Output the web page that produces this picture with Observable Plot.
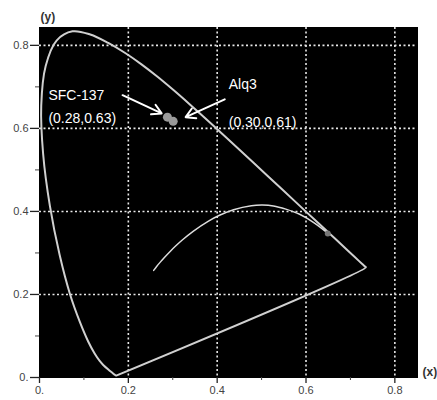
<!DOCTYPE html>
<html>
<head>
<meta charset="utf-8">
<script src="https://cdn.jsdelivr.net/npm/d3@7"></script>
<script src="https://cdn.jsdelivr.net/npm/@observablehq/plot@0.6"></script>
<style>
  body { margin: 0; background: #fff; }
  #chart svg { display: block; }
</style>
</head>
<body>
<div id="chart"></div>
<script>
// CIE 1931 spectral locus (x, y) as traced in the picture, closed by the purple line
const locusX = [0.1741,0.1733,0.1714,0.1689,0.1644,0.1566,0.1440,0.1355,0.1241,0.1096,0.0913,0.0687,0.0454,0.0235,0.0082,0.0039,0.0139,0.0389,0.0743,0.1142,0.1547,0.1929,0.2296,0.2658,0.3016,0.3373,0.3731,0.4087,0.4441,0.4788,0.5125,0.5448,0.5752,0.6029,0.6270,0.6482,0.6658,0.6915,0.7079,0.7190,0.7260,0.7300,0.7334,0.7347,0.1741];
const locusY = [0.0050,0.0048,0.0051,0.0069,0.0109,0.0177,0.0297,0.0399,0.0578,0.0868,0.1327,0.2007,0.2950,0.4127,0.5384,0.6548,0.7502,0.8120,0.8338,0.8262,0.8059,0.7816,0.7543,0.7243,0.6923,0.6589,0.6245,0.5896,0.5547,0.5202,0.4866,0.4544,0.4242,0.3965,0.3725,0.3514,0.3340,0.3083,0.2920,0.2809,0.2740,0.2700,0.2666,0.2653,0.0050];

// Planckian (black-body) curve
const planckX = [0.257,0.2637,0.2719,0.2807,0.2952,0.3064,0.3221,0.3451,0.3805,0.4053,0.4369,0.4770,0.5014,0.5267,0.5546,0.5857,0.6183,0.6528];
const planckY = [0.258,0.2674,0.2779,0.2884,0.3048,0.3166,0.3318,0.3516,0.3768,0.3907,0.4041,0.4137,0.4153,0.4133,0.4055,0.3931,0.3726,0.3444];

// Measured points (SFC-137, Alq3)
const ptX = [0.288, 0.301];
const ptY = [0.627, 0.617];
// End marker on the Planckian curve
const endX = [0.649];
const endY = [0.347];

// Annotation labels
const labels = ["SFC-137", "(0.28,0.63)", "Alq3", "(0.30,0.61)"];
const labelX = [0.020, 0.020, 0.426, 0.426];
const labelY = [0.680, 0.624, 0.706, 0.614];

// Arrows: from label towards points
const arrowX1 = [0.187, 0.417];
const arrowY1 = [0.680, 0.670];
const arrowX2 = [0.275, 0.329];
const arrowY2 = [0.636, 0.627];

const majorTicks = [0, 0.2, 0.4, 0.6, 0.8];
const minorTicks = [0.1, 0.3, 0.5, 0.7];
const gridTicks = [0.2, 0.4, 0.6, 0.8];
const fmt = d => d === 0 ? "0." : d.toFixed(1);

const locus = locusX.map((x, i) => ({x, y: locusY[i]}));
const planck = planckX.map((x, i) => ({x, y: planckY[i]}));
const pts = ptX.map((x, i) => ({x, y: ptY[i]}));
const ends = endX.map((x, i) => ({x, y: endY[i]}));
const lab = labels.map((t, i) => ({t, x: labelX[i], y: labelY[i]}));
const arrows = arrowX1.map((x1, i) => ({x1, y1: arrowY1[i], x2: arrowX2[i], y2: arrowY2[i]}));

const chart = Plot.plot({
  width: 437,
  height: 400,
  marginLeft: 39,
  marginRight: 20,
  marginTop: 27,
  marginBottom: 23,
  style: {background: "#fff", fontFamily: "Liberation Sans, Arial, sans-serif"},
  x: {domain: [0, 0.851]},
  y: {domain: [0, 0.843]},
  marks: [
    Plot.frame({fill: "black", stroke: "black"}),
    Plot.gridX(gridTicks, {stroke: "#e8e8e8", strokeOpacity: 1, strokeWidth: 1.6, strokeDasharray: "2,2.5"}),
    Plot.gridY(gridTicks, {stroke: "#e8e8e8", strokeOpacity: 1, strokeWidth: 1.6, strokeDasharray: "2,2.5"}),
    Plot.axisX(majorTicks, {tickFormat: fmt, tickSize: 6, tickPadding: 3, fontSize: 11, fill: "#444", stroke: "#222", strokeWidth: 1.3, label: null}),
    Plot.axisX(minorTicks, {tickFormat: null, text: null, tickSize: 3, stroke: "#444", label: null}),
    Plot.axisY(majorTicks, {tickFormat: fmt, tickSize: 9, tickPadding: 2, fontSize: 11, fill: "#444", stroke: "#222", strokeWidth: 1.3, label: null}),
    Plot.axisY(minorTicks, {tickFormat: null, text: null, tickSize: 4, stroke: "#444", label: null}),
    Plot.line(locus, {x: "x", y: "y", stroke: "#d0d0d0", strokeWidth: 2, curve: "catmull-rom"}),
    Plot.line(planck, {x: "x", y: "y", stroke: "#dcdcdc", strokeWidth: 1.5, curve: "catmull-rom"}),
    Plot.dot(ends, {x: "x", y: "y", r: 3, fill: "#777", stroke: "none"}),
    Plot.dot(pts, {x: "x", y: "y", r: 4.5, fill: "#9a9a9a", stroke: "none"}),
    Plot.arrow(arrows, {x1: "x1", y1: "y1", x2: "x2", y2: "y2", stroke: "white", strokeWidth: 2, headLength: 8}),
    Plot.text(lab, {x: "x", y: "y", text: "t", fill: "white", fontSize: 14, textAnchor: "start"}),
    Plot.text(["(y)"], {frameAnchor: "top-left", dx: 1, dy: -15, fontSize: 12, fontWeight: "bold", fill: "#333", textAnchor: "start", lineAnchor: "top"}),
    Plot.text(["(x)"], {frameAnchor: "bottom-right", dx: 5, dy: -5, fontSize: 12, fontWeight: "bold", fill: "#333", textAnchor: "start", lineAnchor: "middle"})
  ]
});
document.getElementById("chart").appendChild(chart);
</script>
</body>
</html>
